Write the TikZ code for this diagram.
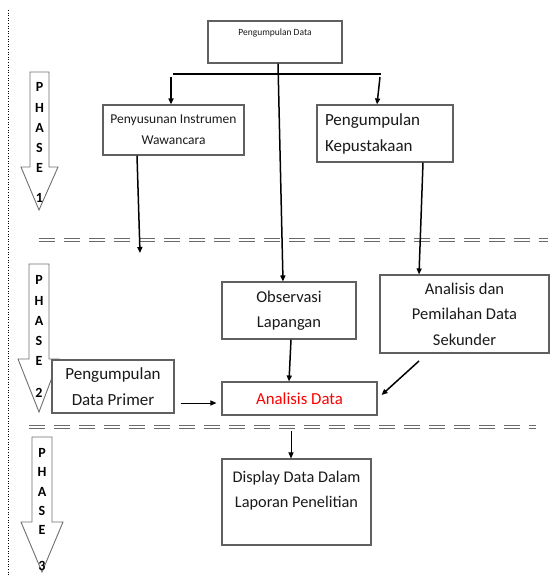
\documentclass[tikz,border=0pt]{standalone}
\usepackage{fontspec}
\setmainfont{Carlito}
\usetikzlibrary{arrows.meta}
\definecolor{boxgray}{HTML}{606060}
\definecolor{phgray}{HTML}{707070}
\definecolor{sepgray}{HTML}{6A6A6A}
\definecolor{txt}{HTML}{1A1A1A}
\definecolor{redtxt}{HTML}{FF0000}
\begin{document}
\begin{tikzpicture}[x=1pt,y=-1pt,
  box/.style={draw=boxgray, line width=1.1pt, fill=white, inner sep=0pt, align=center, text=txt},
  conn/.style={line width=1.5pt, -{Triangle[length=6pt,width=5pt]}},
  thinconn/.style={line width=1pt, -{Triangle[length=6pt,width=5pt]}},
  phasearrow/.style={draw=phgray, line width=0.9pt, fill=white},
  phl/.style={font=\bfseries\fontsize{14}{14}\selectfont, inner sep=0pt, text=black},
  sepline/.style={draw=sepgray, line width=1.5pt, dash pattern=on 16pt off 9pt}]

\fill[white] (0,0) rectangle (554,576);
\useasboundingbox (0,0) rectangle (554,576);

% dotted margin line
\draw[dotted, line width=0.6pt] (8,10) -- (8,576);

% separators
\draw[sepline] (39,238.7) -- (548,238.7);
\draw[sepline] (39,241.5) -- (548,241.5);
\draw[sepline] (29,425.7) -- (536,425.7);
\draw[sepline] (29,428.5) -- (536,428.5);

% phase arrows
\draw[phasearrow] (30,72) -- (49,72) -- (49,167) -- (58,167) -- (39,210) -- (21,167) -- (30,167) -- cycle;
\draw[phasearrow] (29,264) -- (49,264) -- (49,359) -- (59,359) -- (39,412) -- (18,359) -- (29,359) -- cycle;
\draw[phasearrow] (32,437) -- (52,437) -- (52,522) -- (63,522) -- (42,572) -- (21,522) -- (32,522) -- cycle;

\node[phl] (p1a) at (39.5,87) {P};
\node[phl] (p1b) at (39.5,108) {H};
\node[phl] (p1c) at (39.5,128) {A};
\node[phl] (p1d) at (39.5,148) {S};
\node[phl] (p1e) at (39.5,168) {E};
\node[phl] (p1f) at (39.5,198) {1};

\node[phl] (p2a) at (39,280) {P};
\node[phl] (p2b) at (39,301) {H};
\node[phl] (p2c) at (39,321) {A};
\node[phl] (p2d) at (39,341) {S};
\node[phl] (p2e) at (39,361) {E};
\node[phl] (p2f) at (39,393) {2};

\node[phl] (p3a) at (42,453) {P};
\node[phl] (p3b) at (42,472) {H};
\node[phl] (p3c) at (42,492) {A};
\node[phl] (p3d) at (42,511) {S};
\node[phl] (p3e) at (42,530) {E};
\node[phl] (p3f) at (42,566) {3};

% boxes
\node[box, minimum width=134pt, minimum height=42pt] (top) at (275,42) {};
\node[font=\fontsize{9.5}{11}\selectfont, text=txt, inner sep=0pt] (toptxt) at (275,33) {Pengumpulan Data};

\node[box, minimum width=141pt, minimum height=50pt, font=\fontsize{13.5}{21}\selectfont] (peny) at (173.5,130) {Penyusunan Instrumen\\Wawancara};

\node[box, text width=120pt, inner xsep=8pt, minimum height=57pt, align=left, font=\fontsize{17}{26}\selectfont] (kep) at (385,133.5) {Pengumpulan\\Kepustakaan};

\node[box, minimum width=134pt, minimum height=57pt, font=\fontsize{16.5}{25}\selectfont] (obs) at (289,310.5) {Observasi\\Lapangan};

\node[box, minimum width=169pt, minimum height=78pt, font=\fontsize{16.5}{25.5}\selectfont] (ana2) at (464.5,314) {Analisis dan\\Pemilahan Data\\Sekunder};

\node[box, minimum width=155pt, minimum height=33pt, font=\fontsize{16.8}{20}\selectfont, text=redtxt] (anadata) at (299.5,398.5) {Analisis Data};

\node[box, minimum width=122pt, minimum height=53pt, font=\fontsize{17}{26}\selectfont] (primer) at (113,386.5) {Pengumpulan\\Data Primer};

\node[box, minimum width=149pt, minimum height=86pt] (disp) at (296.5,502) {};
\node[font=\fontsize{16.3}{25}\selectfont, align=center, text=txt, inner sep=0pt] (disptxt) at (296.5,490.5) {Display Data Dalam\\Laporan Penelitian};

% connector coordinates
\coordinate (barL) at (173,74);
\coordinate (barR) at (381,74);
\coordinate (a1) at (171,77);
\coordinate (a2) at (380,77);
\coordinate (penyend) at (140,253);
\coordinate (a8) at (419,361);
\coordinate (a10) at (291,431);

% connectors
\draw[line width=1.2pt] (barL) -- (barR);
\draw[conn] ([xshift=3pt]top.south) -- ([xshift=-6pt]obs.north);
\draw[conn] (a1) -- ([xshift=-2.5pt]peny.north);
\draw[conn] (a2) -- ([xshift=-8pt]kep.north);
\draw[conn] ([xshift=-36.5pt]peny.south) -- (penyend);
\draw[conn] ([xshift=38pt]kep.south) -- ([xshift=-45.5pt]ana2.north);
\draw[conn] ([xshift=2pt]obs.south) -- ([xshift=-10.5pt]anadata.north);
\draw[conn] (a8) -- ([xshift=4pt,yshift=3.5pt]anadata.east);
\draw[thinconn] ([xshift=6pt,yshift=-16.5pt]primer.east) -- ([xshift=-5pt,yshift=-4.5pt]anadata.west);
\draw[thinconn] (a10) -- ([xshift=-5.5pt]disp.north);
\end{tikzpicture}
\end{document}
